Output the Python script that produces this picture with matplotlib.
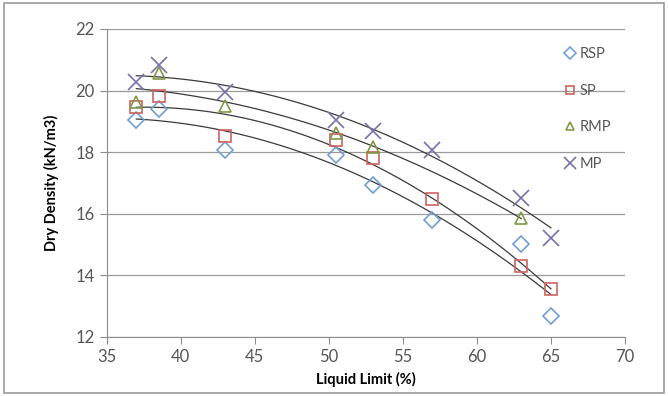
import matplotlib.pyplot as plt
import numpy as np
from matplotlib.patches import Rectangle

plt.rcParams["font.family"] = ["Lato", "DejaVu Sans"]

# liquid limit (%) and dry density (kN/m3) for each mix
rsp_ll = [37, 38.5, 43, 50.5, 53, 57, 63, 65]
rsp_dd = [19.05, 19.40, 18.08, 17.92, 16.94, 15.81, 15.03, 12.67]

sp_ll = [37, 38.5, 43, 50.5, 53, 57, 63, 65]
sp_dd = [19.48, 19.81, 18.51, 18.40, 17.81, 16.47, 14.30, 13.56]

rmp_ll = [37, 38.5, 43, 50.5, 53, 63]
rmp_dd = [19.64, 20.56, 19.50, 18.62, 18.18, 15.86]

mp_ll = [37, 38.5, 43, 50.5, 53, 57, 63, 65]
mp_dd = [20.29, 20.83, 19.97, 19.05, 18.70, 18.06, 16.51, 15.22]

series = [
    ("RSP", rsp_ll, rsp_dd, "D", "#6f9fd6", 8.5),
    ("SP", sp_ll, sp_dd, "s", "#d0625e", 8),
    ("RMP", rmp_ll, rmp_dd, "^", "#7e9a45", 8),
    ("MP", mp_ll, mp_dd, "x", "#7a6fa8", 11),
]

fig = plt.figure(figsize=(6.68, 3.96), dpi=100)
ax = fig.add_axes([0.1597, 0.149, 0.7759, 0.7778])

for name, ll, dd, mk, col, ms in series:
    ax.plot(ll, dd, linestyle="none", marker=mk, ms=ms, mec=col,
            mfc="none", mew=1.2, label=name, zorder=3)
    # second order polynomial trendline over the data range
    c = np.polyfit(ll, dd, 2)
    xs = np.linspace(min(ll), max(ll), 100)
    ax.plot(xs, np.polyval(c, xs), color="#3a3a3a", lw=0.9, zorder=2)

ax.set_xlim(35, 70)
ax.set_ylim(12, 22)
ax.set_xticks(range(35, 71, 5))
ax.set_yticks(range(12, 23, 2))
ax.grid(axis="y", color="#9a9a9a", lw=0.9)
ax.set_axisbelow(True)
for s in ("top", "right"):
    ax.spines[s].set_visible(False)
for s in ("left", "bottom"):
    ax.spines[s].set_color("#8c8c8c")
ax.tick_params(colors="#8c8c8c", length=5, labelsize=12, labelcolor="#555555")

ax.set_xlabel("Liquid Limit (%)", fontsize=10.5, fontweight="bold", labelpad=5)
ax.set_ylabel("Dry Density (kN/m3)", fontsize=10.5, fontweight="bold", labelpad=12)

leg = ax.legend(loc="upper right", bbox_to_anchor=(0.985, 0.96), frameon=False,
                fontsize=10.5, handletextpad=0.2, labelspacing=1.55,
                handlelength=1.0, borderaxespad=0, markerscale=0.75)
for t in leg.get_texts():
    t.set_color("#555555")

# chart area border
fig.patches.append(Rectangle((0.006, 0.008), 0.988, 0.984, transform=fig.transFigure,
                             fill=False, edgecolor="#9a9a9a", lw=1.2))

fig.savefig("out.png", dpi=100)
